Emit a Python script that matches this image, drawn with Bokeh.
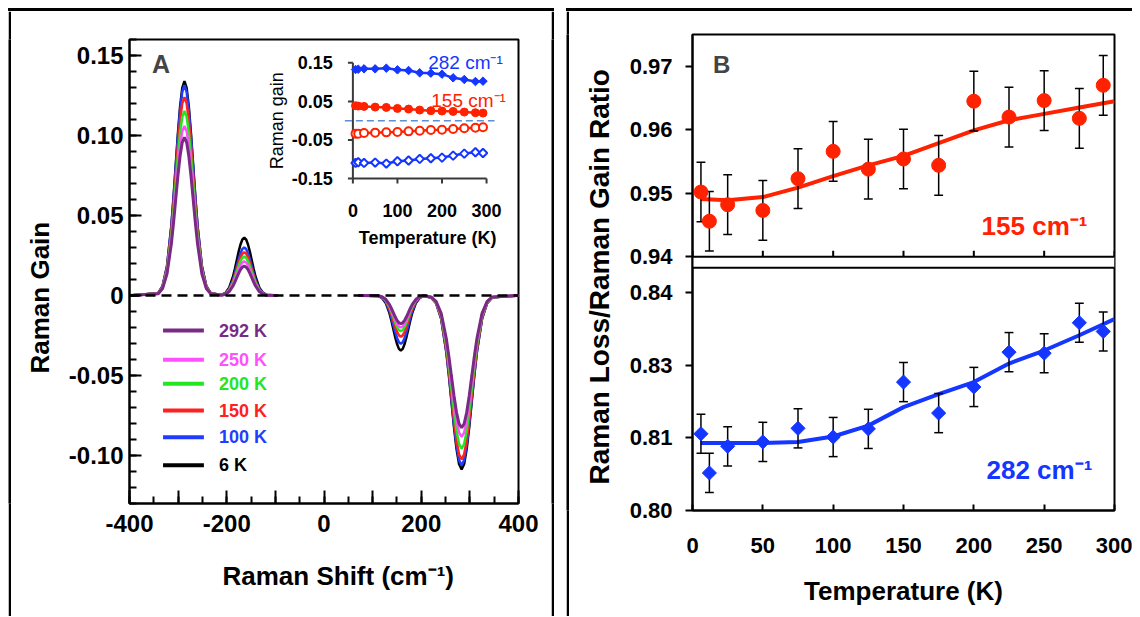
import math
from bokeh.plotting import figure
from bokeh.models import (Range1d, FixedTicker, CustomJSTickFormatter, Span, Label, Title,
                          Spacer, Div)
from bokeh.layouts import row, column
from bokeh.embed import file_html
from bokeh.resources import INLINE
from bokeh.core.properties import value

FONT = "Liberation Sans"
NaN = float("nan")

# ======================= DATA =======================
# ---- Panel A: Raman gain spectra at several temperatures ----
temps = ["292 K", "250 K", "200 K", "150 K", "100 K", "6 K"]
temp_colors = ["#7A2A85", "#FF50FF", "#22E622", "#FF2020", "#1F3DFF", "#000000"]
band_centers = [-287, -164, 158, 283]          # cm-1
band_sigmas = [18, 15.5, 15.5, 21]
gain_287 = [0.0988, 0.1060, 0.1153, 0.1240, 0.1314, 0.1339]
gain_164 = [0.0183, 0.0213, 0.0243, 0.0270, 0.0300, 0.0361]
loss_158 = [-0.0176, -0.0200, -0.0223, -0.0257, -0.0302, -0.0344]
loss_283 = [-0.0827, -0.0884, -0.0958, -0.1025, -0.1062, -0.1087]
# normalised band profile (offset in widths, relative height)
profile_u = [-3, -2.5, -2, -1.5, -1.25, -1, -0.75, -0.5, -0.25, 0,
             0.25, 0.5, 0.75, 1, 1.25, 1.5, 2, 2.5, 3]
profile_f = [0.011, 0.044, 0.135, 0.325, 0.458, 0.607, 0.755, 0.882, 0.969, 1.0,
             0.969, 0.882, 0.755, 0.607, 0.458, 0.325, 0.135, 0.044, 0.011]
spec_left = [-400, -95]     # measured anti-Stokes window
spec_right = [70, 400]      # measured Stokes window

# ---- Panel A inset: band amplitudes vs temperature ----
inset_T = [6, 12, 25, 50, 75, 100, 125, 150, 175, 200, 225, 250, 275, 292]
inset_gain_282 = [0.1328, 0.1336, 0.1345, 0.1345, 0.1362, 0.1319, 0.1302,
                  0.1241, 0.1233, 0.1207, 0.1112, 0.1069, 0.1017, 0.1026]
inset_gain_155 = [0.0388, 0.0379, 0.0371, 0.0353, 0.0345, 0.0319, 0.0302,
                  0.0276, 0.0259, 0.0250, 0.0241, 0.0224, 0.0207, 0.0198]
inset_loss_155 = [-0.0336, -0.0336, -0.0319, -0.0310, -0.0302, -0.0293, -0.0276,
                  -0.0259, -0.0241, -0.0233, -0.0216, -0.0198, -0.0181, -0.0172]
inset_loss_282 = [-0.1095, -0.1078, -0.1095, -0.1086, -0.1112, -0.1052, -0.1034,
                  -0.0991, -0.0974, -0.0957, -0.0905, -0.0853, -0.0819, -0.0836]
inset_yticks = [0.15, 0.05, -0.05, -0.15]
inset_ylabels = ["0.15", "0.05", "-0.05", "-0.15"]
inset_xticks = [0, 100, 200, 300]
inset_xlabels = ["0", "100", "200", "300"]

# ---- Panel B: loss/gain ratio vs temperature ----
T_B = [6, 12, 25, 50, 75, 100, 125, 150, 175, 200, 225, 250, 275, 292]
ratio_155 = [0.9502, 0.9456, 0.9482, 0.9473, 0.9523, 0.9566, 0.9538,
             0.9554, 0.9544, 0.9645, 0.9620, 0.9646, 0.9618, 0.9670]
err_155 = [0.0047, 0.0047, 0.0047, 0.0047, 0.0047, 0.0047, 0.0047,
           0.0047, 0.0047, 0.0047, 0.0047, 0.0047, 0.0047, 0.0047]
ratio_282 = [0.8141, 0.8069, 0.8118, 0.8126, 0.8151, 0.8135, 0.8150,
             0.8236, 0.8179, 0.8227, 0.8291, 0.8289, 0.8345, 0.8329]
err_282 = [0.0036, 0.0036, 0.0036, 0.0036, 0.0036, 0.0036, 0.0036,
           0.0036, 0.0036, 0.0036, 0.0036, 0.0036, 0.0036, 0.0036]
fit_T = [6, 25, 50, 75, 100, 125, 150, 175, 200, 225, 250, 275, 300]
fit_155 = [0.9491, 0.9489, 0.9494, 0.9509, 0.9527, 0.9544, 0.9559,
           0.9579, 0.9599, 0.9615, 0.9625, 0.9635, 0.9645]
fit_282 = [0.8124, 0.8124, 0.8124, 0.8126, 0.8136, 0.8156, 0.8190,
           0.8214, 0.8236, 0.8270, 0.8294, 0.8322, 0.8352]
top_yticks = [0.94, 0.95, 0.96, 0.97]
top_ylabels = ["0.94", "0.95", "0.96", "0.97"]
bot_ylabels = ["0.80", "0.81", "0.83", "0.84"]
B_xticks = [0, 50, 100, 150, 200, 250, 300]

RED = "#FF2200"
BLUE = "#1436FF"
BAR = 3      # thickness of the panel box lines


def vbar(h):
    b = figure(width=BAR, height=h, toolbar_location=None, output_backend="svg",
               min_border=0, x_axis_type=None, y_axis_type=None,
               x_range=Range1d(0, 1), y_range=Range1d(0, 1),
               background_fill_color="black", border_fill_color="black")
    b.outline_line_color = None
    return b


def hbar(w):
    return Div(text="", width=w, height=BAR, margin=0,
               styles={"background-color": "black"})


def style_axis(ax, size, tick_in, tick_out, minor_in, standoff):
    ax.axis_line_color = "black"
    ax.axis_line_width = 2
    ax.major_tick_line_color = "black"
    ax.major_tick_line_width = 2
    ax.minor_tick_line_color = "black"
    ax.minor_tick_line_width = 2
    ax.major_tick_in = tick_in
    ax.major_tick_out = tick_out
    ax.minor_tick_in = minor_in
    ax.minor_tick_out = 0
    ax.major_label_text_font = FONT
    ax.major_label_text_font_size = size
    ax.major_label_text_font_style = "bold"
    ax.major_label_text_color = "black"
    ax.major_label_standoff = standoff


def title(text, align, offset, standoff, size="26px"):
    return Title(text=text, align=align, offset=offset, standoff=standoff,
                 vertical_align="bottom", text_font=FONT, text_font_size=size,
                 text_font_style="bold", text_color="black")


# ======================= PANEL A =======================
A_W, A_H = 540, 605
A_L, A_R, A_T = 114, 33, 28
A_fh = 464
A_Bm = A_H - A_T - A_fh
A_X = (-400, 400)
A_Y = (-0.13, 0.16)
A_fw = A_W - A_L - A_R
px_mx = A_fw / (A_X[1] - A_X[0])
px_my = A_fh / (A_Y[1] - A_Y[0])

pA = figure(width=A_W, height=A_H, x_range=Range1d(*A_X), y_range=Range1d(*A_Y),
            output_backend="svg", toolbar_location=None,
            min_border_left=A_L, min_border_right=A_R, min_border_top=A_T,
            min_border_bottom=A_Bm)
pA.outline_line_color = "black"
pA.outline_line_width = 2
pA.xgrid.visible = False
pA.ygrid.visible = False

yA = pA.yaxis[0]
xA = pA.xaxis[0]
style_axis(yA, "24px", 12, 0, 7, 6)
style_axis(xA, "24px", 13, 0, 7, 11)
yA.ticker = FixedTicker(ticks=[-0.10, -0.05, 0.0, 0.05, 0.10, 0.15],
                        minor_ticks=[round(-0.13 + 0.01 * i, 2) for i in range(30)])
yA.formatter = CustomJSTickFormatter(
    code="return Math.abs(tick) < 1e-9 ? '0' : tick.toFixed(2);")
xA.ticker = FixedTicker(ticks=list(range(-400, 401, 100)),
                        minor_ticks=list(range(-400, 401, 50)))
xA.formatter = CustomJSTickFormatter(
    code="const t = Math.round(tick); return (t % 200 === 0) ? String(t) : '';")
pA.add_layout(title("Raman Gain", "left", 130, 22), "left")
pA.add_layout(title("Raman Shift (cm\u207b\u00b9)", "left", 93, 48), "below")


def band(i, h):
    xs = [band_centers[i] + u * band_sigmas[i] for u in profile_u]
    ys = [h * f for f in profile_f]
    return xs, ys


order = list(range(len(temps)))[::-1]   # 6 K drawn first, 292 K on top
for i in order:
    x1, y1 = band(0, gain_287[i])
    x2, y2 = band(1, gain_164[i])
    x3, y3 = band(2, loss_158[i])
    x4, y4 = band(3, loss_283[i])
    xs = [spec_left[0]] + x1 + x2 + [spec_left[1], NaN, spec_right[0]] + x3 + x4 + [spec_right[1]]
    ys = [0.0] + y1 + y2 + [0.0, NaN, 0.0] + y3 + y4 + [0.0]
    pA.line(xs, ys, line_color=temp_colors[i], line_width=3 if i == 0 else 2.5)

pA.add_layout(Span(location=0, dimension="width", line_color="black",
                   line_width=2.5, line_dash="10 6"))

# legend (keys + coloured texts)
legend_rows_y = [-0.0219, -0.0402, -0.0552, -0.0719, -0.0886, -0.1061]
legend_key_x = (-331, -247)
legend_text_x = -216
pA.segment(x0=[legend_key_x[0]] * 6, y0=legend_rows_y, x1=[legend_key_x[1]] * 6,
           y1=legend_rows_y, line_color=temp_colors, line_width=4)
pA.text(x=[legend_text_x] * 6, y=legend_rows_y, text=temps, text_color=temp_colors,
        text_font=value(FONT), text_font_size=value("18px"), text_font_style="bold",
        text_align="left", text_baseline="middle")

pA.add_layout(Label(x=-335, y=0.145, text="A", text_font=FONT, text_font_size="25px",
                    text_font_style="bold", text_align="center", text_baseline="middle"))

# ---- inset (own ranges mapped into a box of the main frame) ----
INSET_T = (0, 300)
INSET_G = (-0.15, 0.15)
INSET_MX = (59.4, 334.3)     # main-x span occupied by T = 0..300
INSET_MY = (0.0731, 0.1454)  # main-y span occupied by gain -0.15..0.15


def sub_range(main, src, tgt):
    k = (src[1] - src[0]) / (tgt[1] - tgt[0])
    return Range1d(src[0] + (main[0] - tgt[0]) * k, src[0] + (main[1] - tgt[0]) * k)


pA.extra_x_ranges = {"ix": sub_range(A_X, INSET_T, INSET_MX)}
pA.extra_y_ranges = {"iy": sub_range(A_Y, INSET_G, INSET_MY)}
px_T = px_mx * (INSET_MX[1] - INSET_MX[0]) / (INSET_T[1] - INSET_T[0])
px_G = px_my * (INSET_MY[1] - INSET_MY[0]) / (INSET_G[1] - INSET_G[0])
IN = dict(x_range_name="ix", y_range_name="iy")
AX_C = "#3a3a3a"

pad = 0.06 * (INSET_T[1] - INSET_T[0])
pA.line([INSET_T[0] - pad, INSET_T[1] + pad], [0, 0], line_color="#5C8FD3",
        line_width=1.5, line_dash="7 4", **IN)
pA.segment(x0=[0, 0], y0=[INSET_G[0], INSET_G[0]], x1=[0, INSET_T[1]],
           y1=[INSET_G[1], INSET_G[0]], line_color=AX_C, line_width=2, **IN)
tl = 5
pA.segment(x0=[0] * 4, y0=inset_yticks, x1=[-tl / px_T] * 4, y1=inset_yticks,
           line_color=AX_C, line_width=2, **IN)
pA.segment(x0=inset_xticks, y0=[INSET_G[0]] * 4, x1=inset_xticks,
           y1=[INSET_G[0] - tl / px_G] * 4, line_color=AX_C, line_width=2, **IN)
pA.text(x=[0] * 4, y=inset_yticks, text=inset_ylabels, x_offset=-20,
        text_font=value(FONT), text_font_size=value("18px"), text_font_style="bold",
        text_align="right", text_baseline="middle", **IN)
pA.text(x=inset_xticks, y=[INSET_G[0]] * 4, text=inset_xlabels, y_offset=32,
        text_font=value(FONT), text_font_size=value("18px"), text_font_style="bold",
        text_align="center", text_baseline="middle", **IN)
pA.text(x=[150], y=[INSET_G[0]], text=["Temperature (K)"], x_offset=8, y_offset=59,
        text_font=value(FONT), text_font_size=value("18px"), text_font_style="bold",
        text_align="center", text_baseline="middle", **IN)
pA.text(x=[0], y=[0], text=["Raman gain"], x_offset=-76, angle=math.pi / 2,
        text_font=value(FONT), text_font_size=value("18px"),
        text_align="center", text_baseline="middle", **IN)
pA.line(inset_T, inset_gain_282, line_color=BLUE, line_width=2.5, **IN)
pA.scatter(inset_T, inset_gain_282, marker="square", angle=math.pi / 4, size=6,
           fill_color=BLUE, line_color=BLUE, **IN)
pA.line(inset_T, inset_loss_282, line_color=BLUE, line_width=2.5, **IN)
pA.scatter(inset_T, inset_loss_282, marker="square", angle=math.pi / 4, size=6,
           fill_color="white", line_color=BLUE, line_width=2, **IN)
pA.line(inset_T, inset_gain_155, line_color=RED, line_width=2.5, **IN)
pA.scatter(inset_T, inset_gain_155, marker="circle", size=8,
           fill_color=RED, line_color=RED, **IN)
pA.line(inset_T, inset_loss_155, line_color=RED, line_width=2.5, **IN)
pA.scatter(inset_T, inset_loss_155, marker="circle", size=8,
           fill_color="white", line_color=RED, line_width=2, **IN)
pA.text(x=[169], y=[0.1516], text=["282 cm\u207b\u00b9"], text_color=BLUE,
        text_font=value(FONT), text_font_size=value("19px"),
        text_align="left", text_baseline="middle", **IN)
pA.text(x=[176], y=[0.0523], text=["155 cm\u207b\u00b9"], text_color=RED,
        text_font=value(FONT), text_font_size=value("19px"),
        text_align="left", text_baseline="middle", **IN)

# ======================= PANEL B =======================
B_W, B_H = 563, 605
B_L, B_R, B_T = 116, 18, 23
B_fh = 476
B_Bm = B_H - B_T - B_fh
B_fw = B_W - B_L - B_R
BOT_PX = 242.7          # height of the lower (282 cm-1) box
GAP_PX = 11.0           # gap between the two boxes
TOP_PX = B_fh - BOT_PX - GAP_PX
BOT_V = (0.80, 0.8446)
TOP_V = (0.94, 0.975)
ppu_b = BOT_PX / (BOT_V[1] - BOT_V[0])
ppu_t = TOP_PX / (TOP_V[1] - TOP_V[0])
yb_range = Range1d(BOT_V[0], BOT_V[0] + B_fh / ppu_b)
top_start = TOP_V[0] - (BOT_PX + GAP_PX) / ppu_t
yt_range = Range1d(top_start, TOP_V[1])
px_TB = B_fw / 300.0


def top_to_bottom(v):
    return BOT_V[0] + (v - top_start) * ppu_t / ppu_b


pB = figure(width=B_W, height=B_H, x_range=Range1d(0, 300), y_range=yb_range,
            output_backend="svg", toolbar_location=None,
            min_border_left=B_L, min_border_right=B_R, min_border_top=B_T,
            min_border_bottom=B_Bm)
pB.extra_y_ranges = {"top": yt_range}
pB.outline_line_color = "black"
pB.outline_line_width = 2
pB.xgrid.visible = False
pB.ygrid.visible = False

yB = pB.yaxis[0]
xB = pB.xaxis[0]
style_axis(yB, "22px", 0, 7, 0, 13)
style_axis(xB, "22px", 6, 0, 0, 27)
bot_tick_vals = [BOT_V[0] + k * 0.04 / 3 for k in range(4)]
top_tick_vals = [top_to_bottom(v) for v in top_yticks]
all_vals = bot_tick_vals + top_tick_vals
all_labs = bot_ylabels + top_ylabels
yB.ticker = FixedTicker(ticks=all_vals, minor_ticks=[])
yB.formatter = CustomJSTickFormatter(args=dict(vals=all_vals, labs=all_labs), code="""
let best = 0, bd = Infinity;
for (let i = 0; i < vals.length; i++) {
  const d = Math.abs(vals[i] - tick);
  if (d < bd) { bd = d; best = i; }
}
return labs[best];
""")
xB.ticker = FixedTicker(ticks=B_xticks, minor_ticks=[])
xB.axis_label = "Temperature (K)"
xB.axis_label_text_font = FONT
xB.axis_label_text_font_size = "26px"
xB.axis_label_text_font_style = "bold"
xB.axis_label_text_color = "black"
xB.axis_label_standoff = 20
pB.add_layout(title("Raman Loss/Raman Gain Ratio", "left", 26, 24, "28px"), "left")

gap_lo = BOT_V[1]
gap_hi = top_to_bottom(TOP_V[0])
pB.quad(left=[0], right=[300], bottom=[gap_lo], top=[gap_hi], fill_color="white",
        line_color=None)
pB.segment(x0=[0, 0], y0=[gap_lo, gap_hi], x1=[300, 300], y1=[gap_lo, gap_hi],
           line_color="black", line_width=2)
pB.segment(x0=B_xticks, y0=[TOP_V[0]] * len(B_xticks), x1=B_xticks,
           y1=[TOP_V[0] + 6 / ppu_t] * len(B_xticks), line_color="black", line_width=2,
           y_range_name="top")

cap = 4.5 / px_TB


def errbars(T, v, e, rng):
    kw = {} if rng is None else dict(y_range_name=rng)
    lo = [a - b for a, b in zip(v, e)]
    hi = [a + b for a, b in zip(v, e)]
    pB.segment(x0=T, y0=lo, x1=T, y1=hi, line_color="black", line_width=1.5, **kw)
    pB.segment(x0=[t - cap for t in T], y0=lo, x1=[t + cap for t in T], y1=lo,
               line_color="black", line_width=1.5, **kw)
    pB.segment(x0=[t - cap for t in T], y0=hi, x1=[t + cap for t in T], y1=hi,
               line_color="black", line_width=1.5, **kw)


pB.line(fit_T, fit_155, line_color=RED, line_width=4, y_range_name="top")
errbars(T_B, ratio_155, err_155, "top")
pB.scatter(T_B, ratio_155, marker="circle", size=14, fill_color=RED, line_color=RED,
           y_range_name="top")

pB.line(fit_T, fit_282, line_color=BLUE, line_width=4)
errbars(T_B, ratio_282, err_282, None)
pB.scatter(T_B, ratio_282, marker="square", angle=math.pi / 4, size=10,
           fill_color=BLUE, line_color=BLUE)

pB.add_layout(Label(x=20.7, y=0.9703, y_range_name="top", text="B", text_font=FONT,
                    text_font_size="24px", text_font_style="bold",
                    text_align="center", text_baseline="middle"))
pB.add_layout(Label(x=205.5, y=0.9449, y_range_name="top", text="155 cm\u207b\u00b9",
                    text_color=RED, text_font=FONT, text_font_size="26px",
                    text_font_style="bold", text_align="left", text_baseline="middle"))
pB.add_layout(Label(x=209, y=0.8074, text="282 cm\u207b\u00b9",
                    text_color=BLUE, text_font=FONT, text_font_size="26px",
                    text_font_style="bold", text_align="left", text_baseline="middle"))

# ======================= LAYOUT (boxed panels) =======================
boxA = column(hbar(A_W + 2 * BAR),
              row(vbar(A_H), pA, vbar(A_H)))
boxB = column(hbar(B_W + BAR),
              row(vbar(B_H), pB))
page = column(Spacer(width=8, height=8),
              row(Spacer(width=8, height=8), boxA, Spacer(width=12, height=8), boxB))
open("out.html", "w").write(file_html(page, INLINE))
